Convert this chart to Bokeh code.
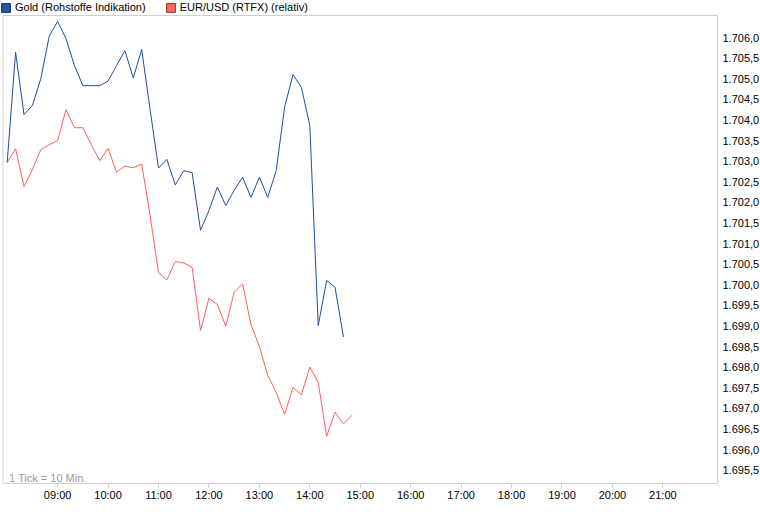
from bokeh.plotting import figure
from bokeh.models import (FixedTicker, Legend, LegendItem, Label, ColumnDataSource,
                          BoxAnnotation, Range1d)
from bokeh.embed import file_html
from bokeh.resources import INLINE

# ---- data (10-minute ticks starting 08:00) ----
start_minute = 480
step_minutes = 10
gold = [1702.97, 1705.64, 1704.13, 1704.35, 1705.00, 1706.03, 1706.39, 1705.97,
        1705.32, 1704.83, 1704.83, 1704.83, 1704.94, 1705.32, 1705.68, 1705.02,
        1705.71, 1704.25, 1702.83, 1703.04, 1702.42, 1702.77, 1702.72, 1701.32,
        1701.80, 1702.37, 1701.92, 1702.29, 1702.61, 1702.12, 1702.61, 1702.12,
        1702.77, 1704.31, 1705.10, 1704.79, 1703.86, 1699.01, 1700.10, 1699.94,
        1698.73]
eurusd_rel = [1702.97, 1703.30, 1702.38, 1702.80, 1703.28, 1703.40, 1703.50, 1704.25,
              1703.81, 1703.81, 1703.40, 1703.01, 1703.31, 1702.73, 1702.88, 1702.84,
              1702.93, 1701.68, 1700.29, 1700.12, 1700.56, 1700.53, 1700.42, 1698.89,
              1699.67, 1699.52, 1698.99, 1699.82, 1700.02, 1699.03, 1698.50, 1697.80,
              1697.39, 1696.85, 1697.51, 1697.33, 1698.00, 1697.63, 1696.32, 1696.91,
              1696.62, 1696.83]

series_names = ["Gold (Rohstoffe Indikation)", "EUR/USD (RTFX) (relativ)"]

x_ticks = [540, 600, 660, 720, 780, 840, 900, 960, 1020, 1080, 1140, 1200, 1260]
x_tick_labels = ["09:00", "10:00", "11:00", "12:00", "13:00", "14:00", "15:00",
                 "16:00", "17:00", "18:00", "19:00", "20:00", "21:00"]
y_ticks = [1695.5, 1696.0, 1696.5, 1697.0, 1697.5, 1698.0, 1698.5, 1699.0, 1699.5,
           1700.0, 1700.5, 1701.0, 1701.5, 1702.0, 1702.5, 1703.0, 1703.5, 1704.0,
           1704.5, 1705.0, 1705.5, 1706.0]
y_tick_labels = ["1.695,5", "1.696,0", "1.696,5", "1.697,0", "1.697,5", "1.698,0",
                 "1.698,5", "1.699,0", "1.699,5", "1.700,0", "1.700,5", "1.701,0",
                 "1.701,5", "1.702,0", "1.702,5", "1.703,0", "1.703,5", "1.704,0",
                 "1.704,5", "1.705,0", "1.705,5", "1.706,0"]
note_text = "1 Tick = 10 Min."

# visible plot box (data extent of the drawn frame)
box_x0, box_x1 = 475, 1325
box_y0, box_y1 = 1695.175, 1706.534

gold_x = [start_minute + step_minutes * i for i in range(len(gold))]
eur_x = [start_minute + step_minutes * i for i in range(len(eurusd_rel))]

FONT = "Liberation Sans"
GOLD_C = "#1d4f9f"
RED_C = "#ff5f5f"

# pixel layout
FRAME_W, FRAME_H = 720, 485
BOX_LEFT_PX, BOX_RIGHT_PX, BOX_TOP_PX, BOX_BOTTOM_PX = 2.5, 717.0, 15.0, 483.0
kx = (BOX_RIGHT_PX - BOX_LEFT_PX) / (box_x1 - box_x0)
ky = (BOX_BOTTOM_PX - BOX_TOP_PX) / (box_y1 - box_y0)
xr = Range1d(box_x0 - BOX_LEFT_PX / kx, box_x0 + (FRAME_W - BOX_LEFT_PX) / kx)
yr = Range1d(box_y0 - (FRAME_H - BOX_BOTTOM_PX) / ky, box_y1 + BOX_TOP_PX / ky)

p = figure(frame_width=FRAME_W, frame_height=FRAME_H, x_range=xr, y_range=yr,
           y_axis_location="right", output_backend="svg", toolbar_location=None,
           min_border_left=0, min_border_right=0, min_border_top=0, min_border_bottom=0,
           background_fill_color="white", border_fill_color="white")

p.xgrid.visible = False
p.ygrid.visible = False
p.outline_line_color = None

box = BoxAnnotation(left=box_x0, right=box_x1, bottom=box_y0, top=box_y1,
                    fill_alpha=0, line_color="#cfcfcf", line_width=1, line_alpha=1)
p.add_layout(box)

p.line(eur_x, eurusd_rel, line_color=RED_C, line_width=1)
p.line(gold_x, gold, line_color=GOLD_C, line_width=1)

# legend swatches (renderers with a single NaN row -> nothing drawn in the plot)
nan = float("nan")
src_sw = ColumnDataSource(data=dict(l=[nan], r=[nan], t=[nan], b=[nan]))
sw1 = p.quad(left="l", right="r", top="t", bottom="b", source=src_sw,
             fill_color="#2456a6", line_color="#0c2b66", line_width=1)
sw2 = p.quad(left="l", right="r", top="t", bottom="b", source=src_sw,
             fill_color="#ff6a6a", line_color="#a02828", line_width=1)

legend = Legend(items=[LegendItem(label=series_names[0], renderers=[sw1]),
                       LegendItem(label=series_names[1], renderers=[sw2])],
                orientation="horizontal", location=(0, FRAME_H - 13),
                glyph_width=11, glyph_height=11, label_height=11, label_width=10,
                label_standoff=4, spacing=19, padding=0, margin=0,
                border_line_color=None, background_fill_alpha=0,
                label_text_font=FONT, label_text_font_size="11px",
                label_text_color="#000000", label_text_baseline="middle")
p.add_layout(legend)

# x axis
xa = p.xaxis[0]
xa.ticker = FixedTicker(ticks=x_ticks)
xa.major_label_overrides = dict(zip(x_ticks, x_tick_labels))
xa.axis_line_color = None
xa.major_tick_in = 2
xa.major_tick_out = 2
xa.major_tick_line_color = "#cccccc"
xa.minor_tick_out = 0
xa.minor_tick_in = 0
xa.major_label_standoff = 1
xa.major_label_text_font = FONT
xa.major_label_text_font_size = "11px"
xa.major_label_text_color = "#000000"

# y axis (right)
ya = p.yaxis[0]
ya.ticker = FixedTicker(ticks=y_ticks)
ya.major_label_overrides = dict(zip(y_ticks, y_tick_labels))
ya.axis_line_color = None
ya.major_tick_out = 0
ya.major_tick_in = 0
ya.minor_tick_out = 0
ya.minor_tick_in = 0
ya.major_label_standoff = 2
ya.major_label_text_font = FONT
ya.major_label_text_font_size = "11px"
ya.major_label_text_color = "#000000"

note = Label(x=box_x0, y=box_y0, x_offset=6, y_offset=0, text=note_text,
             text_font=FONT, text_font_size="11px", text_color="#999999",
             text_baseline="bottom", text_align="left")
p.add_layout(note)

open("out.html", "w").write(file_html(p, INLINE))
